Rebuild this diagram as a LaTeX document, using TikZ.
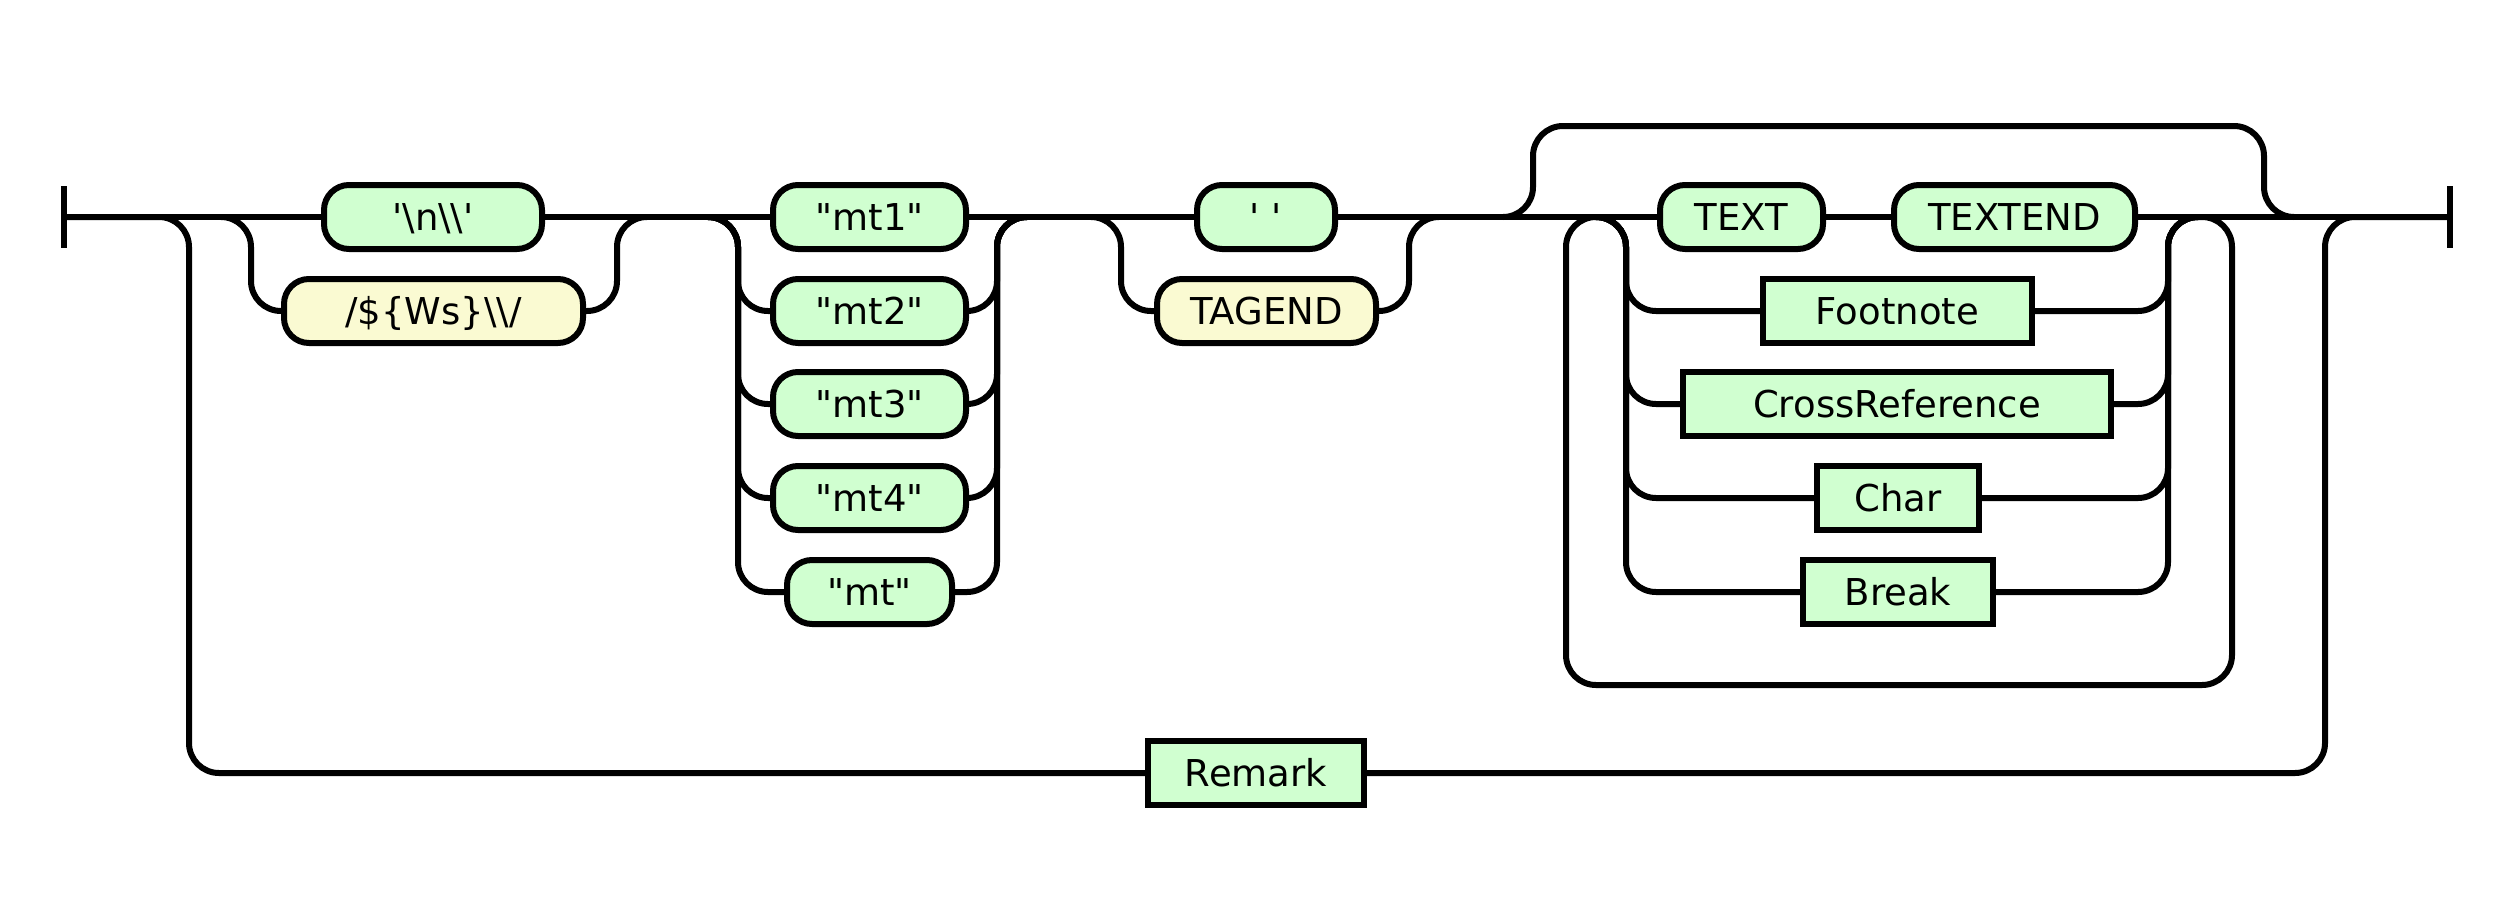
\documentclass[tikz,border=0pt]{standalone}
\usepackage{fontspec}
\setmainfont{DejaVu Sans}[Ligatures=TeXOff]
\usetikzlibrary{positioning}
\definecolor{termfill}{HTML}{D0FFD0}
\definecolor{regexfill}{HTML}{FAFAD2}

\begin{document}
\begin{tikzpicture}[
    x=1pt, y=-1pt,
    term/.style={rounded corners=25pt, draw, line width=6pt, fill=termfill, minimum height=64pt, inner sep=0pt, text height=36pt, text depth=9pt, font=\fontsize{37}{44}\selectfont},
    regex/.style={term, fill=regexfill},
    nonterm/.style={term, sharp corners},
    rail/.style={line width=6pt, rounded corners=30pt},
]
\useasboundingbox (0,0) rectangle (2511,900);

% End points and rail junctions
\coordinate (sbar) at (64,217);
\coordinate (ebar) at (2450,217);
\coordinate (s1) at (221,217);   \coordinate (c1l) at (251,217);
\coordinate (c1r) at (617,217);  \coordinate (j1) at (647,217);
\coordinate (s2) at (708,217);   \coordinate (c2l) at (738,217);
\coordinate (c2r) at (997,217);  \coordinate (j2) at (1027,217);
\coordinate (s3) at (1091,217);  \coordinate (c3l) at (1121,217);
\coordinate (c3r) at (1409,217); \coordinate (j3) at (1439,217);
\coordinate (s4) at (1503,217);  \coordinate (tpl) at (1533,126);
\coordinate (tpr) at (2264,217); \coordinate (j4) at (2294,217);
\coordinate (s5) at (1596,217);  \coordinate (c5l) at (1626,217);
\coordinate (c5r) at (2168,217); \coordinate (j5) at (2198,217);
\coordinate (lpr) at (2232,685); \coordinate (lpl) at (1566,685);
\coordinate (rml) at (189,773);  \coordinate (rmr) at (2325,217);

% Terminals and rules
\node[term, minimum width=218pt] (nl) at (433,217) {'\textbackslash n\textbackslash\textbackslash'};
\node[regex, minimum width=299pt] (ws) at (433.5,311) {/\$\{Ws\}\textbackslash\textbackslash/};
\node[term, minimum width=193pt] (mt1) at (869.5,217) {"mt1"};
\node[term, minimum width=193pt] (mt2) at (869.5,311) {"mt2"};
\node[term, minimum width=193pt] (mt3) at (869.5,404) {"mt3"};
\node[term, minimum width=193pt] (mt4) at (869.5,498) {"mt4"};
\node[term, minimum width=165pt] (mt) at (869.5,592) {"mt"};
\node[term, minimum width=138pt] (sp) at (1266,217) {' '};
\node[regex, minimum width=219pt] (tagend) at (1266.5,311) {TAGEND};
\node[term, minimum width=163pt] (txt) at (1741.5,217) {TEXT};
\node[term, minimum width=241pt] (txtend) at (2014.5,217) {TEXTEND};
\node[nonterm, minimum width=269pt] (foot) at (1897.5,311) {Footnote};
\node[nonterm, minimum width=428pt] (xref) at (1897,404) {CrossReference};
\node[nonterm, minimum width=162pt] (char) at (1898,498) {Char};
\node[nonterm, minimum width=190pt] (brk) at (1898,592) {Break};
\node[nonterm, minimum width=216pt] (rem) at (1256,773) {Remark};

% Main line
\draw[rail] ([yshift=31pt]sbar) -- ([yshift=-31pt]sbar);
\draw[rail] ([yshift=31pt]ebar) -- ([yshift=-31pt]ebar);
\draw[rail] (sbar) -- (nl.west);
\draw[rail] (nl.east) -- (mt1.west);
\draw[rail] (mt1.east) -- (sp.west);
\draw[rail] (sp.east) -- (txt.west);
\draw[rail] (txt.east) -- (txtend.west);
\draw[rail] (txtend.east) -- (ebar);

% Choices
\draw[rail] (s1) -| (c1l |- ws.west) -- (ws.west);
\draw[rail] (ws.east) -| (c1r) -- (j1);
\foreach \n in {mt2,mt3,mt4,mt} {
  \draw[rail] (s2) -| (c2l |- \n.west) -- (\n.west);
  \draw[rail] (\n.east) -| (c2r) -- (j2);
}
\draw[rail] (s3) -| (c3l |- tagend.west) -- (tagend.west);
\draw[rail] (tagend.east) -| (c3r) -- (j3);
\foreach \n in {foot,xref,char,brk} {
  \draw[rail] (s5) -| (c5l |- \n.west) -- (\n.west);
  \draw[rail] (\n.east) -| (c5r) -- (j5);
}

% Loops and bypasses
\draw[rail] (s4) -| (tpl) -| (tpr) -- (j4);
\draw[rail] (j5) -| (lpr) -- (lpl) |- (s5);
\draw[rail] (sbar) -| (rml) -- (rem.west);
\draw[rail] (rem.east) -| (rmr) -- (ebar);

\end{tikzpicture}
\end{document}
